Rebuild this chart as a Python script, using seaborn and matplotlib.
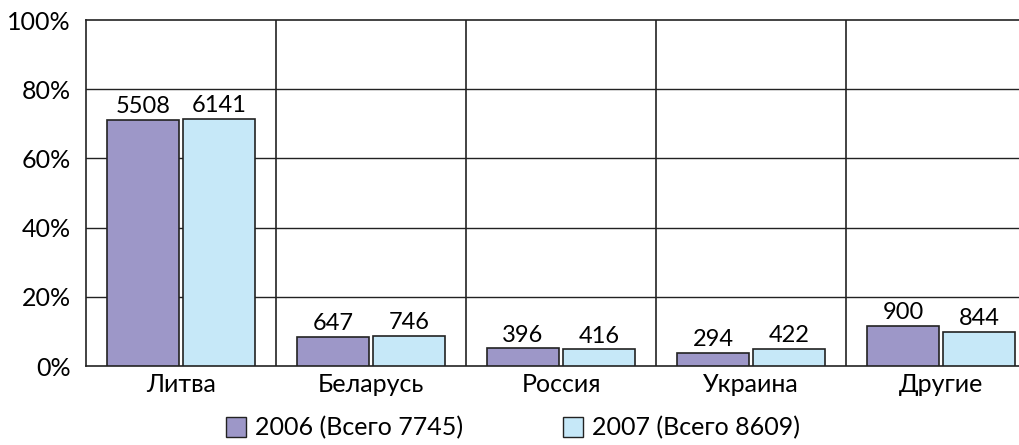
import pandas as pd
import seaborn as sns
import matplotlib.pyplot as plt
from matplotlib.patches import Patch

countries = ["Литва", "Беларусь", "Россия", "Украина", "Другие"]
counts_2006 = [5508, 647, 396, 294, 900]
counts_2007 = [6141, 746, 416, 422, 844]
total_2006 = 7745
total_2007 = 8609
series_names = ["2006 (Всего 7745)", "2007 (Всего 8609)"]
colors = ["#9d97c8", "#c6e8f8"]

rows = []
for c, a, b in zip(countries, counts_2006, counts_2007):
    rows.append({"country": c, "year": series_names[0], "count": a, "pct": a / total_2006 * 100})
    rows.append({"country": c, "year": series_names[1], "count": b, "pct": b / total_2007 * 100})
df = pd.DataFrame(rows)

sns.set_style("white")
plt.rcParams["font.family"] = ["Lato", "DejaVu Sans"]
plt.rcParams["text.color"] = "black"
plt.rcParams["xtick.color"] = "black"
plt.rcParams["ytick.color"] = "black"

fig = plt.figure(figsize=(10.2, 4.45), dpi=100)
ax = fig.add_axes([86 / 1020, 1 - 366 / 445, 950 / 1020, 346 / 445])

sns.barplot(data=df, x="country", y="pct", hue="year", palette=colors, saturation=1,
            width=0.8, gap=0.04, edgecolor="#222222", linewidth=1.2,
            legend=False, ax=ax, zorder=3)

fs = 18
ax.set_ylim(0, 100)
ax.set_xlim(-0.5, 4.5)
ax.set_yticks(range(0, 101, 20))
ax.set_yticklabels([f"{v}%" for v in range(0, 101, 20)], fontsize=fs)
ax.tick_params(axis="y", length=0, pad=11, labelsize=fs)
ax.tick_params(axis="x", length=0, pad=5, labelsize=fs)
ax.set_xlabel("")
ax.set_ylabel("")
for v in range(20, 100, 20):
    ax.axhline(v, color="#222222", lw=1, zorder=1)
for i in range(1, 5):
    ax.axvline(i - 0.5, color="#222222", lw=1.2, zorder=1)
for s in ax.spines.values():
    s.set_color("#222222")
    s.set_linewidth(1.2)

for cont, labels in zip(ax.containers, [counts_2006, counts_2007]):
    ax.bar_label(cont, labels=[str(v) for v in labels], padding=2, fontsize=17)

handles = [Patch(facecolor=c, edgecolor="#222222", label=n) for c, n in zip(colors, series_names)]
fig.legend(handles=handles, loc="center", bbox_to_anchor=(0.503, 1 - 428 / 445),
           ncol=2, frameon=False, fontsize=fs, handlelength=0.8, handleheight=0.8,
           handletextpad=0.35, columnspacing=4.0)

fig.savefig("out.png", dpi=100)
